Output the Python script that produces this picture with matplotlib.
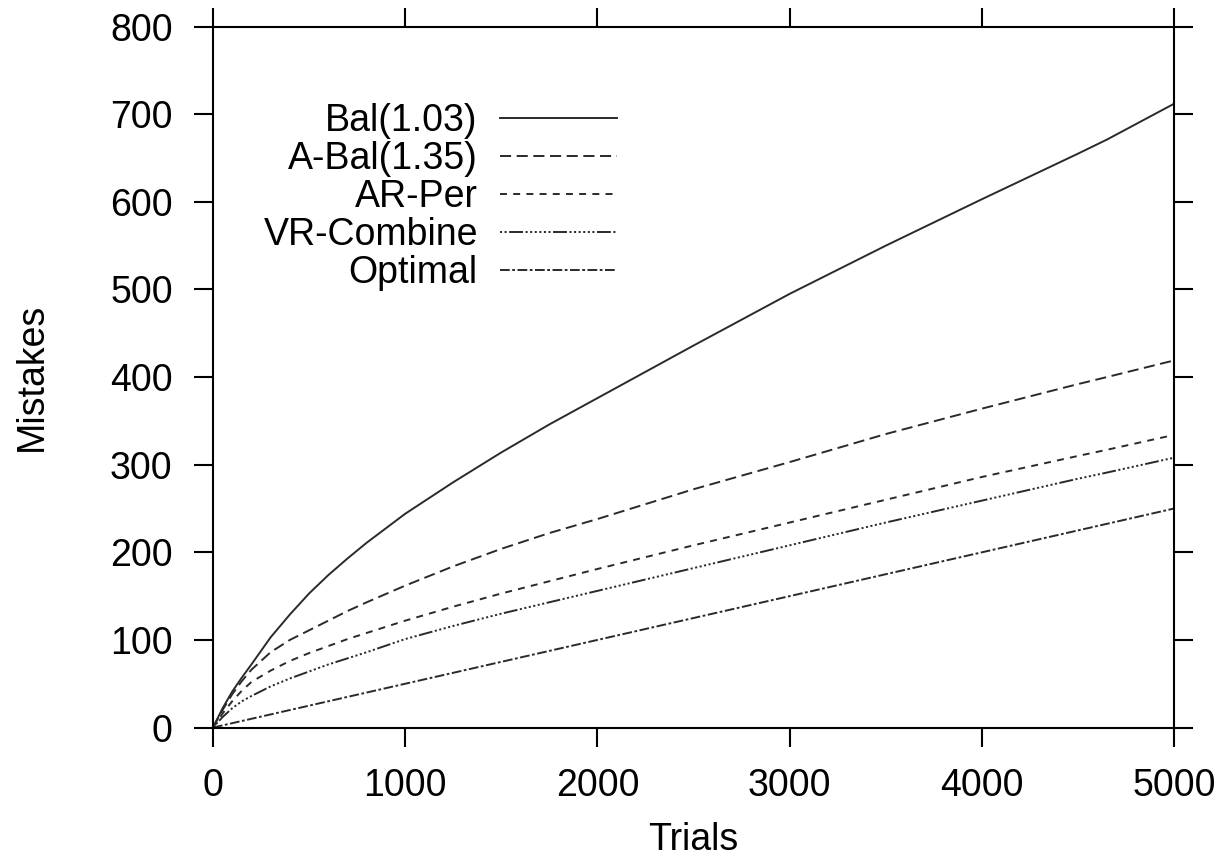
from matplotlib import pyplot as plt
import numpy as np

plt.rcParams['font.family'] = ['Liberation Sans', 'DejaVu Sans']
plt.rcParams['font.size'] = 27
plt.rcParams['lines.scale_dashes'] = False

# values
trials = [0, 50, 100, 150, 200, 300, 400, 500, 600, 700, 800, 1000, 1250, 1500,
          1750, 2000, 2500, 3000, 3500, 4000, 4500, 4650, 5000]
bal = [0, 22, 41, 57, 72, 103, 129, 153, 174, 193, 211, 244, 280, 314,
       346, 376, 436, 495, 550, 603, 655, 671, 712]
a_bal = [0, 20, 38, 53, 66, 86, 100, 111, 122, 133, 143, 162, 184, 204,
         222, 238, 272, 303, 335, 364, 392, 400, 419]
ar_per = [0, 16, 30, 42, 52, 65, 76, 85, 93, 101, 108, 122, 138, 153,
          167, 181, 208, 234, 260, 286, 310, 317, 334]
vr_combine = [0, 12, 22, 30, 36, 47, 56, 64, 72, 79, 86, 101, 116, 130,
              143, 156, 182, 208, 234, 259, 284, 291, 308]
optimal = [0, 2.5, 5, 7.5, 10, 15, 20, 25, 30, 35, 40, 50, 62.5, 75,
           87.5, 100, 125, 150, 175, 200, 225, 232.5, 250]

names = ['Bal(1.03)', 'A-Bal(1.35)', 'AR-Per', 'VR-Combine', 'Optimal']
series = [bal, a_bal, ar_per, vr_combine, optimal]
styles = ['-',
          (0, (8, 4)),
          (0, (5, 4.5)),
          (0, (1.5, 1.8, 1.5, 1.8, 10, 1.8, 1.5, 1.8, 1.5, 1.8, 1.5, 1.8, 1.5, 1.8)),
          (0, (7, 1.8, 2, 1.8))]

fig = plt.figure(figsize=(12.26, 8.6), dpi=100)
ax = fig.add_axes([0.1737, 0.154, 0.7839, 0.815])

for name, vals, ls in zip(names, series, styles):
    ax.plot(trials, vals, linestyle=ls, color='#2a2a2a', lw=1.4, label=name)

ax.set_xlim(0, 5000)
ax.set_ylim(0, 800)
ax.set_xticks(np.arange(0, 5001, 1000))
ax.set_yticks(np.arange(0, 801, 100))
ax.tick_params(direction='out', length=14, width=1.5, top=True, right=True,
               labeltop=False, labelright=False, pad=15)
for sp in ax.spines.values():
    sp.set_linewidth(1.5)

ax.set_xlabel('Trials', labelpad=13)
ax.set_ylabel('Mistakes', labelpad=43)

ax.legend(loc='upper right', bbox_to_anchor=(0.42, 0.891), frameon=False,
          markerfirst=False, handlelength=3.1, labelspacing=0.055,
          handletextpad=0.6, borderpad=0, borderaxespad=0)

plt.savefig('out.png', dpi=100)
